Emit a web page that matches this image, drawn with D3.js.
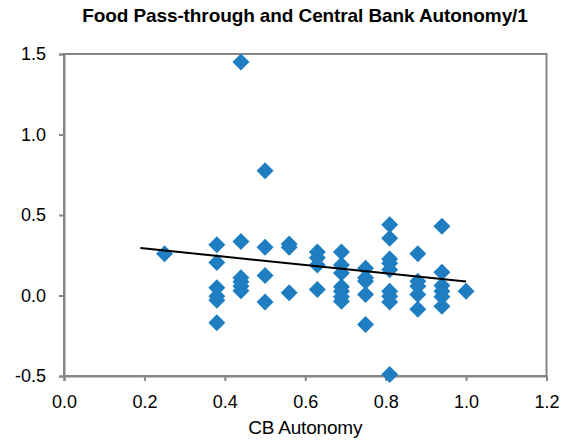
<!DOCTYPE html>
<html>
<head>
<meta charset="utf-8">
<script src="https://cdn.jsdelivr.net/npm/d3@7"></script>
<style>
  html, body { margin: 0; padding: 0; background: #fff; }
  svg { display: block; font-family: "Liberation Sans", Arial, sans-serif; }
</style>
</head>
<body>
<svg id="chart" width="570" height="442"></svg>
<script>
// ---- data ----
const cbAutonomy = [
  0.25,
  0.38, 0.38, 0.38, 0.38, 0.38, 0.38,
  0.44, 0.44, 0.44, 0.44, 0.44, 0.44,
  0.50, 0.50, 0.50, 0.50,
  0.56, 0.56, 0.56,
  0.63, 0.63, 0.63, 0.63,
  0.69, 0.69, 0.69, 0.69, 0.69, 0.69, 0.69,
  0.75, 0.75, 0.75, 0.75, 0.75,
  0.81, 0.81, 0.81, 0.81, 0.81, 0.81, 0.81, 0.81, 0.81,
  0.88, 0.88, 0.88, 0.88, 0.88,
  0.94, 0.94, 0.94, 0.94, 0.94, 0.94,
  1.00
];
const foodPassThrough = [
  0.26,
  0.315, 0.205, 0.048, -0.004, -0.03, -0.17,
  1.45, 0.335, 0.11, 0.085, 0.057, 0.03,
  0.775, 0.30, 0.125, -0.04,
  0.32, 0.30, 0.017,
  0.27, 0.235, 0.19, 0.037,
  0.27, 0.19, 0.14, 0.054, 0.027, -0.008, -0.035,
  0.17, 0.11, 0.088, 0.006, -0.18,
  0.44, 0.356, 0.227, 0.20, 0.16, 0.027, -0.004, -0.04, -0.49,
  0.26, 0.088, 0.057, 0.006, -0.086,
  0.43, 0.144, 0.062, 0.027, -0.008, -0.066,
  0.027
];
const trendX = [0.19, 1.0];
const trendY = [0.295, 0.087];
const xTicks = [0.0, 0.2, 0.4, 0.6, 0.8, 1.0, 1.2];
const yTicks = [-0.5, 0.0, 0.5, 1.0, 1.5];
const titleText = "Food Pass-through and Central Bank Autonomy/1";
const xTitle = "CB Autonomy";

// ---- layout ----
const W = 570, H = 442;
const m = { left: 64, right: 23.5, top: 54, bottom: 66 };
const svg = d3.select("#chart");

const x = d3.scaleLinear().domain([0, 1.2]).range([m.left, W - m.right]);
const y = d3.scaleLinear().domain([-0.5, 1.5]).range([H - m.bottom, m.top]);

const axisColor = "#868686";

// plot border
svg.append("rect")
  .attr("x", x(0)).attr("y", y(1.5))
  .attr("width", x(1.2) - x(0)).attr("height", y(-0.5) - y(1.5))
  .attr("fill", "none").attr("stroke", axisColor).attr("stroke-width", 2);

// axes
const xAxis = svg.append("g")
  .attr("transform", `translate(0,${y(-0.5)})`)
  .call(d3.axisBottom(x).tickValues(xTicks).tickFormat(d3.format(".1f")).tickSize(5).tickPadding(14));
const yAxis = svg.append("g")
  .attr("transform", `translate(${x(0)},0)`)
  .call(d3.axisLeft(y).tickValues(yTicks).tickFormat(d => d3.format(".1f")(d).replace("−", "-")).tickSize(5).tickPadding(13));

[xAxis, yAxis].forEach(g => {
  g.select(".domain").attr("stroke", axisColor).attr("stroke-width", 2);
  g.selectAll(".tick line").attr("stroke", axisColor).attr("stroke-width", 2);
  g.selectAll(".tick text")
    .attr("fill", "#000")
    .style("font-family", '"Liberation Sans", Arial, sans-serif')
    .style("font-size", "18px");
});

// points
const r = 8.5;
const diamond = `M0,${-r}L${r},0L0,${r}L${-r},0Z`;
svg.append("g")
  .selectAll("path")
  .data(d3.range(cbAutonomy.length))
  .join("path")
  .attr("d", diamond)
  .attr("transform", i => `translate(${x(cbAutonomy[i])},${y(foodPassThrough[i])})`)
  .attr("fill", "#1F7DC1");

// trend line
svg.append("path")
  .datum(d3.range(trendX.length))
  .attr("d", d3.line().x(i => x(trendX[i])).y(i => y(trendY[i])))
  .attr("fill", "none")
  .attr("stroke", "#000")
  .attr("stroke-width", 2);

// title
svg.append("text")
  .attr("x", 305).attr("y", 22)
  .attr("text-anchor", "middle")
  .style("font-size", "19px")
  .style("font-weight", "bold")
  .style("letter-spacing", "-0.1px")
  .text(titleText);

// x axis title
svg.append("text")
  .attr("x", x(0.6)).attr("y", 434)
  .attr("text-anchor", "middle")
  .style("font-size", "19px")
  .style("letter-spacing", "-0.2px")
  .text(xTitle);
</script>
</body>
</html>
